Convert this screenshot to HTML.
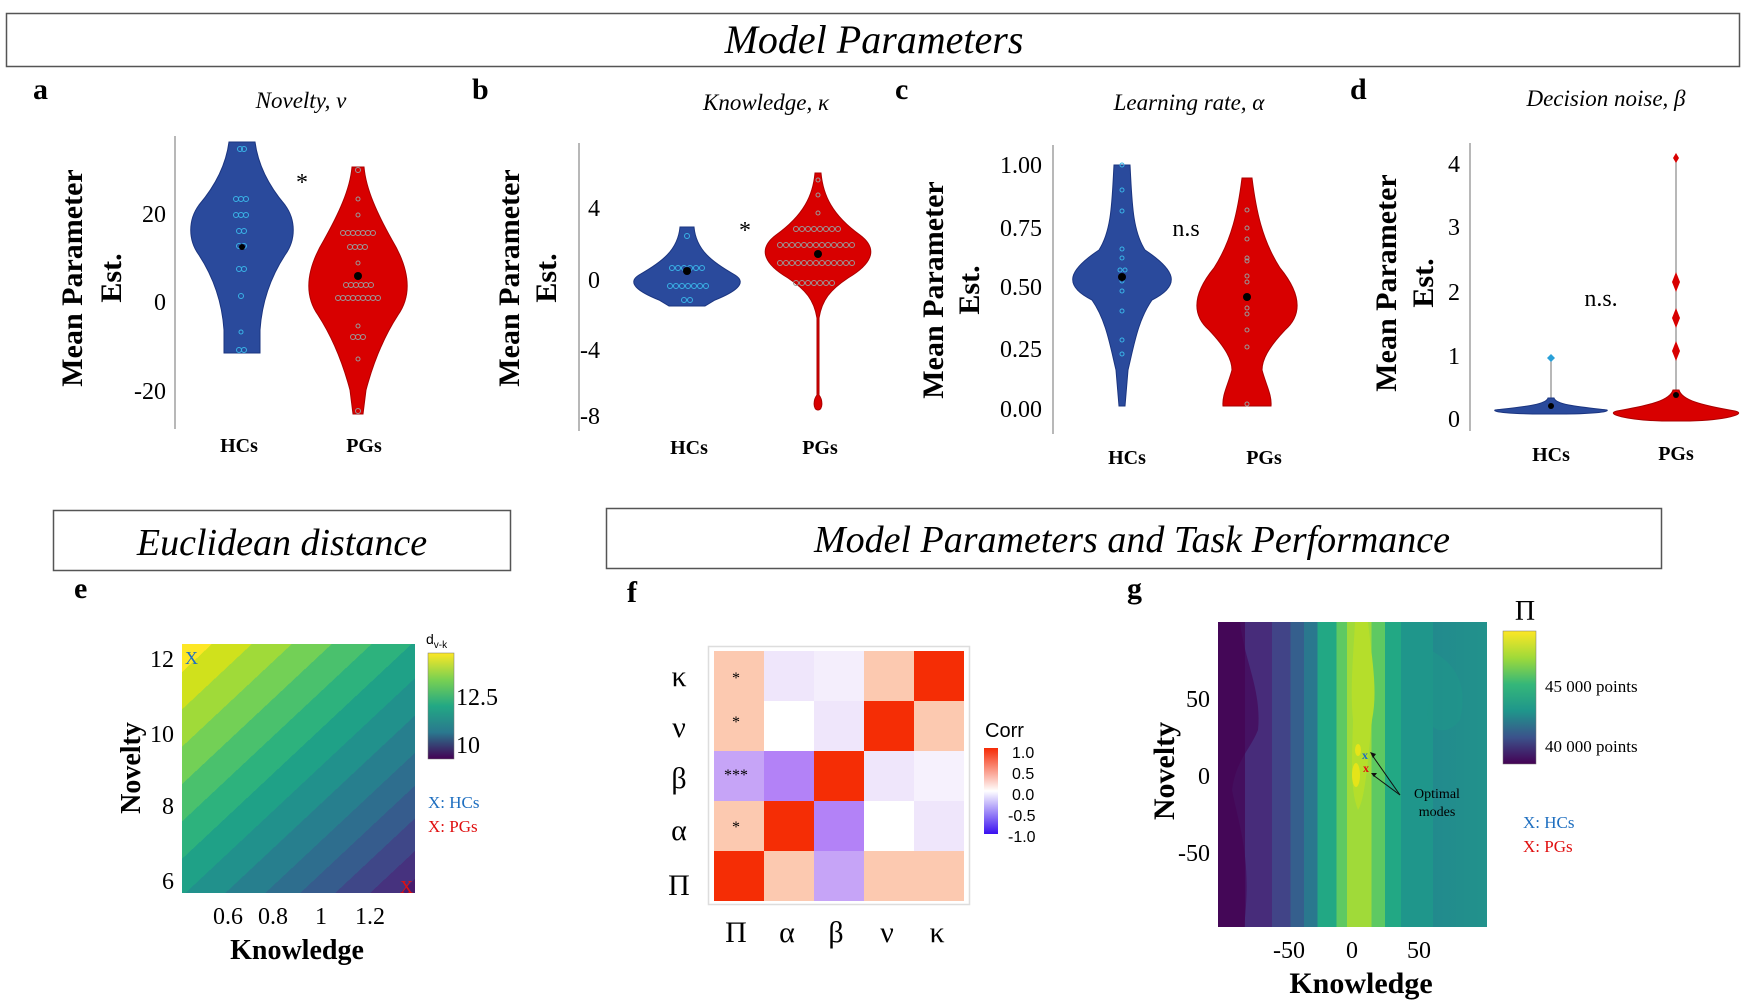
<!DOCTYPE html>
<html><head><meta charset="utf-8"><style>
html,body{margin:0;padding:0;background:#fff;}
svg{display:block;font-family:"Liberation Serif",serif;}
.it{font-style:italic}
.b{font-weight:bold}
</style></head><body>
<svg width="1746" height="1005" viewBox="0 0 1746 1005" xmlns="http://www.w3.org/2000/svg">
<defs>
<linearGradient id="eg" gradientUnits="userSpaceOnUse" x1="182" y1="644" x2="415" y2="893">
<stop offset="0" stop-color="#fde725"/><stop offset="0.06" stop-color="#fde725"/>
<stop offset="0.06" stop-color="#d0e11c"/><stop offset="0.14" stop-color="#d0e11c"/>
<stop offset="0.14" stop-color="#a0da39"/><stop offset="0.22" stop-color="#a0da39"/>
<stop offset="0.22" stop-color="#73d056"/><stop offset="0.30" stop-color="#73d056"/>
<stop offset="0.30" stop-color="#4ac16d"/><stop offset="0.38" stop-color="#4ac16d"/>
<stop offset="0.38" stop-color="#2db27d"/><stop offset="0.46" stop-color="#2db27d"/>
<stop offset="0.46" stop-color="#1fa187"/><stop offset="0.54" stop-color="#1fa187"/>
<stop offset="0.54" stop-color="#21918c"/><stop offset="0.62" stop-color="#21918c"/>
<stop offset="0.62" stop-color="#277f8e"/><stop offset="0.70" stop-color="#277f8e"/>
<stop offset="0.70" stop-color="#2e6e8e"/><stop offset="0.77" stop-color="#2e6e8e"/>
<stop offset="0.77" stop-color="#365c8d"/><stop offset="0.84" stop-color="#365c8d"/>
<stop offset="0.84" stop-color="#3f4788"/><stop offset="0.91" stop-color="#3f4788"/>
<stop offset="0.91" stop-color="#46327e"/><stop offset="0.97" stop-color="#46327e"/>
<stop offset="0.97" stop-color="#481c6e"/><stop offset="1" stop-color="#481c6e"/>
</linearGradient>
<linearGradient id="ecb" x1="0" y1="0" x2="0" y2="1">
<stop offset="0" stop-color="#fde725"/><stop offset="0.25" stop-color="#7ad151"/><stop offset="0.5" stop-color="#22a884"/><stop offset="0.75" stop-color="#2a788e"/><stop offset="1" stop-color="#440154"/>
</linearGradient>
<linearGradient id="gg" gradientUnits="userSpaceOnUse" x1="1218" y1="0" x2="1487" y2="0">
<stop offset="0" stop-color="#440f5e"/><stop offset="0.1" stop-color="#440f5e"/>
<stop offset="0.1" stop-color="#472c7a"/><stop offset="0.2" stop-color="#472c7a"/>
<stop offset="0.2" stop-color="#414487"/><stop offset="0.27" stop-color="#414487"/>
<stop offset="0.27" stop-color="#355f8d"/><stop offset="0.32" stop-color="#355f8d"/>
<stop offset="0.32" stop-color="#2a788e"/><stop offset="0.37" stop-color="#2a788e"/>
<stop offset="0.37" stop-color="#22a884"/><stop offset="0.44" stop-color="#22a884"/>
<stop offset="0.44" stop-color="#5ec962"/><stop offset="0.48" stop-color="#5ec962"/>
<stop offset="0.48" stop-color="#a0da39"/><stop offset="0.57" stop-color="#a0da39"/>
<stop offset="0.57" stop-color="#5ec962"/><stop offset="0.62" stop-color="#5ec962"/>
<stop offset="0.62" stop-color="#22a884"/><stop offset="0.68" stop-color="#22a884"/>
<stop offset="0.68" stop-color="#1f968b"/><stop offset="0.8" stop-color="#1f968b"/>
<stop offset="0.8" stop-color="#228a8d"/><stop offset="1" stop-color="#22928c"/>
</linearGradient>
<linearGradient id="gcb" x1="0" y1="0" x2="0" y2="1">
<stop offset="0" stop-color="#fde725"/><stop offset="0.2" stop-color="#a0da39"/><stop offset="0.4" stop-color="#35b779"/><stop offset="0.6" stop-color="#1f968b"/><stop offset="0.8" stop-color="#3b528b"/><stop offset="1" stop-color="#440154"/>
</linearGradient>
<linearGradient id="corr" x1="0" y1="0" x2="0" y2="1">
<stop offset="0" stop-color="#f52a05"/><stop offset="0.5" stop-color="#ffffff"/><stop offset="1" stop-color="#3a10f0"/>
</linearGradient>
</defs>

<rect x="6.5" y="13.5" width="1733" height="53" fill="#fff" stroke="#555" stroke-width="1.5"/>
<text x="874" y="53" font-size="40" class="it" text-anchor="middle">Model Parameters</text>

<g class="b" font-size="30">
<text x="33" y="99">a</text><text x="472" y="99">b</text><text x="895" y="99">c</text><text x="1350" y="99">d</text>
<text x="74" y="598">e</text><text x="627" y="602">f</text><text x="1127" y="598">g</text>
</g>
<g class="it" font-size="23" text-anchor="middle">
<text x="301" y="108">Novelty, ν</text>
<text x="766" y="110">Knowledge, κ</text>
<text x="1189" y="110">Learning rate, α</text>
<text x="1606" y="106">Decision noise, β</text>
</g>

<g class="b" font-size="30" text-anchor="middle">
<text transform="translate(82,278) rotate(-90)">Mean Parameter</text>
<text transform="translate(121,278) rotate(-90)">Est.</text>
<text transform="translate(519,278) rotate(-90)">Mean Parameter</text>
<text transform="translate(556,278) rotate(-90)">Est.</text>
<text transform="translate(943,290) rotate(-90)">Mean Parameter</text>
<text transform="translate(979,290) rotate(-90)">Est.</text>
<text transform="translate(1396,283) rotate(-90)">Mean Parameter</text>
<text transform="translate(1433,283) rotate(-90)">Est.</text>
</g>

<g stroke="#888" stroke-width="1.2">
<line x1="175" y1="136" x2="175" y2="429"/>
<line x1="579" y1="143" x2="579" y2="431"/>
<line x1="1053" y1="145" x2="1053" y2="434"/>
<line x1="1470" y1="143" x2="1470" y2="431"/>
</g>
<g font-size="24" text-anchor="end">
<text x="166" y="222">20</text><text x="166" y="310">0</text><text x="166" y="399">-20</text>
<text x="600" y="216">4</text>
<text x="600" y="288">0</text><text x="600" y="358">-4</text><text x="600" y="424">-8</text>
<text x="1042" y="173">1.00</text><text x="1042" y="236">0.75</text><text x="1042" y="295">0.50</text><text x="1042" y="357">0.25</text><text x="1042" y="417">0.00</text>
<text x="1460" y="172">4</text><text x="1460" y="235">3</text><text x="1460" y="300">2</text><text x="1460" y="364">1</text><text x="1460" y="427">0</text>
</g>
<g class="b" font-size="20" text-anchor="middle">
<text x="239" y="452">HCs</text><text x="364" y="452">PGs</text>
<text x="689" y="454">HCs</text><text x="820" y="454">PGs</text>
<text x="1127" y="464">HCs</text><text x="1264" y="464">PGs</text>
<text x="1551" y="461">HCs</text><text x="1676" y="460">PGs</text>
</g>
<g font-size="24" text-anchor="middle">
<text x="302" y="190">*</text><text x="745" y="238">*</text>
<text x="1186" y="236">n.s</text><text x="1601" y="306">n.s.</text>
</g>

<path d="M229,142 L255,142 C258,165 268,185 285,205 C296,220 296,240 285,255 C272,275 262,300 260,330 L260,353 L224,353 L224,330 C222,300 212,275 199,255 C188,240 188,220 199,205 C216,185 226,165 229,142 Z" fill="#2a4a9c" stroke="#1b3580"/>
<path d="M352,167 L364,167 C366,190 378,215 392,240 C410,270 412,295 398,315 C385,335 374,360 366,390 L363,414 L353,414 L350,390 C342,360 331,335 318,315 C304,295 306,270 324,240 C338,215 350,190 352,167 Z" fill="#d80000" stroke="#a00"/>
<path d="M680,227 L694,227 C696,250 712,262 735,275 C748,283 735,292 715,300 L705,306 L669,306 L659,300 C639,292 626,283 639,275 C662,262 678,250 680,227 Z" fill="#2a4a9c" stroke="#1b3580"/>
<path d="M815,173 L821,173 C823,195 832,215 860,235 C880,250 870,265 848,278 C830,290 822,300 819,318 L819,395 C823,400 823,410 818,410 C813,410 813,400 817,395 L817,318 C814,300 806,290 788,278 C766,265 756,250 776,235 C804,215 813,195 815,173 Z" fill="#d80000" stroke="#a00"/>
<path d="M1114,165 L1130,165 C1132,200 1132,230 1145,250 C1175,270 1182,285 1152,300 C1138,320 1134,345 1128,370 L1125,406 L1119,406 L1116,370 C1110,345 1106,320 1092,300 C1062,285 1069,270 1099,250 C1112,230 1112,200 1114,165 Z" fill="#2a4a9c" stroke="#1b3580"/>
<path d="M1242,178 L1252,178 C1256,210 1262,240 1280,268 C1302,295 1302,315 1285,330 C1268,348 1262,360 1262,370 C1266,385 1272,395 1271,406 L1223,406 C1222,395 1228,385 1232,370 C1232,360 1226,348 1209,330 C1192,315 1192,295 1214,268 C1232,240 1238,210 1242,178 Z" fill="#d80000" stroke="#a00"/>
<line x1="1551" y1="358" x2="1551" y2="400" stroke="#888" stroke-width="1.2"/>
<path d="M1551,354 l4,4 l-4,4 l-4,-4 Z" fill="#29a0d8"/>
<path d="M1548,398 L1554,398 C1556,405 1580,407 1607,410 C1610,412 1590,414 1560,414 L1542,414 C1512,414 1492,412 1495,410 C1522,407 1546,405 1548,398 Z" fill="#2a4a9c" stroke="#1b3580"/>
<line x1="1676" y1="157" x2="1676" y2="395" stroke="#888" stroke-width="1.2"/>
<g fill="#d80000">
<path d="M1676,153 l3,5 l-3,5 l-3,-5 Z"/>
<path d="M1676,272 l4,10 l-4,10 l-4,-10 Z"/>
<path d="M1676,308 l4,10 l-4,10 l-4,-10 Z"/>
<path d="M1676,341 l4,10 l-4,10 l-4,-10 Z"/>
</g>
<path d="M1673,390 L1679,390 C1682,400 1700,405 1735,411 C1748,414 1725,420 1690,421 L1662,421 C1627,420 1604,414 1617,411 C1652,405 1670,400 1673,390 Z" fill="#d80000" stroke="#a00"/>

<g fill="none" stroke="#3ab3e6" stroke-width="1">
<circle cx="240" cy="149" r="2.5"/><circle cx="244" cy="149" r="2.5"/>
<circle cx="236" cy="199" r="2.5"/><circle cx="241" cy="199" r="2.5"/><circle cx="246" cy="199" r="2.5"/>
<circle cx="236" cy="215" r="2.5"/><circle cx="241" cy="215" r="2.5"/><circle cx="246" cy="215" r="2.5"/>
<circle cx="239" cy="231" r="2.5"/><circle cx="244" cy="231" r="2.5"/>
<circle cx="239" cy="246" r="2.5"/><circle cx="244" cy="246" r="2.5"/>
<circle cx="239" cy="269" r="2.5"/><circle cx="244" cy="269" r="2.5"/>
<circle cx="241" cy="296" r="2.5"/><circle cx="241" cy="332" r="2"/><circle cx="239" cy="350" r="2.5"/><circle cx="244" cy="350" r="2.5"/>
<circle cx="672" cy="268" r="2.5"/><circle cx="678" cy="268" r="2.5"/><circle cx="684" cy="268" r="2.5"/><circle cx="690" cy="268" r="2.5"/><circle cx="696" cy="268" r="2.5"/><circle cx="702" cy="268" r="2.5"/>
<circle cx="670" cy="286" r="2.5"/><circle cx="676" cy="286" r="2.5"/><circle cx="682" cy="286" r="2.5"/><circle cx="688" cy="286" r="2.5"/><circle cx="694" cy="286" r="2.5"/><circle cx="700" cy="286" r="2.5"/><circle cx="706" cy="286" r="2.5"/>
<circle cx="684" cy="300" r="2.5"/><circle cx="690" cy="300" r="2.5"/><circle cx="687" cy="236" r="2.5"/>
<circle cx="1122" cy="165" r="2"/><circle cx="1122" cy="190" r="2"/><circle cx="1122" cy="211" r="2"/><circle cx="1122" cy="249" r="2"/><circle cx="1122" cy="258" r="2"/><circle cx="1120" cy="270" r="2"/><circle cx="1125" cy="270" r="2"/><circle cx="1122" cy="281" r="2"/><circle cx="1122" cy="291" r="2"/><circle cx="1122" cy="311" r="2"/><circle cx="1122" cy="340" r="2"/><circle cx="1122" cy="354" r="2"/>
</g>
<g fill="none" stroke="#999" stroke-width="1">
<circle cx="358" cy="170" r="2.5"/><circle cx="358" cy="199" r="2"/><circle cx="358" cy="215" r="2"/>
<circle cx="343" cy="233" r="2.5"/><circle cx="348" cy="233" r="2.5"/><circle cx="353" cy="233" r="2.5"/><circle cx="358" cy="233" r="2.5"/><circle cx="363" cy="233" r="2.5"/><circle cx="368" cy="233" r="2.5"/><circle cx="373" cy="233" r="2.5"/>
<circle cx="350" cy="247" r="2.5"/><circle cx="355" cy="247" r="2.5"/><circle cx="360" cy="247" r="2.5"/><circle cx="365" cy="247" r="2.5"/>
<circle cx="358" cy="263" r="2"/>
<circle cx="346" cy="285" r="2.5"/><circle cx="351" cy="285" r="2.5"/><circle cx="356" cy="285" r="2.5"/><circle cx="361" cy="285" r="2.5"/><circle cx="366" cy="285" r="2.5"/><circle cx="371" cy="285" r="2.5"/>
<circle cx="338" cy="298" r="2.5"/><circle cx="343" cy="298" r="2.5"/><circle cx="348" cy="298" r="2.5"/><circle cx="353" cy="298" r="2.5"/><circle cx="358" cy="298" r="2.5"/><circle cx="363" cy="298" r="2.5"/><circle cx="368" cy="298" r="2.5"/><circle cx="373" cy="298" r="2.5"/><circle cx="378" cy="298" r="2.5"/>
<circle cx="358" cy="326" r="2"/><circle cx="353" cy="337" r="2.5"/><circle cx="358" cy="337" r="2.5"/><circle cx="363" cy="337" r="2.5"/><circle cx="358" cy="359" r="2"/><circle cx="358" cy="411" r="2.5"/>
<circle cx="818" cy="180" r="2"/><circle cx="818" cy="195" r="2"/><circle cx="818" cy="213" r="2"/>
<circle cx="796" cy="229" r="2.5"/><circle cx="802" cy="229" r="2.5"/><circle cx="808" cy="229" r="2.5"/><circle cx="814" cy="229" r="2.5"/><circle cx="820" cy="229" r="2.5"/><circle cx="826" cy="229" r="2.5"/><circle cx="832" cy="229" r="2.5"/><circle cx="838" cy="229" r="2.5"/>
<circle cx="780" cy="245" r="2.5"/><circle cx="786" cy="245" r="2.5"/><circle cx="792" cy="245" r="2.5"/><circle cx="798" cy="245" r="2.5"/><circle cx="804" cy="245" r="2.5"/><circle cx="810" cy="245" r="2.5"/><circle cx="816" cy="245" r="2.5"/><circle cx="822" cy="245" r="2.5"/><circle cx="828" cy="245" r="2.5"/><circle cx="834" cy="245" r="2.5"/><circle cx="840" cy="245" r="2.5"/><circle cx="846" cy="245" r="2.5"/><circle cx="852" cy="245" r="2.5"/>
<circle cx="780" cy="263" r="2.5"/><circle cx="786" cy="263" r="2.5"/><circle cx="792" cy="263" r="2.5"/><circle cx="798" cy="263" r="2.5"/><circle cx="804" cy="263" r="2.5"/><circle cx="810" cy="263" r="2.5"/><circle cx="816" cy="263" r="2.5"/><circle cx="822" cy="263" r="2.5"/><circle cx="828" cy="263" r="2.5"/><circle cx="834" cy="263" r="2.5"/><circle cx="840" cy="263" r="2.5"/><circle cx="846" cy="263" r="2.5"/><circle cx="852" cy="263" r="2.5"/>
<circle cx="796" cy="283" r="2.5"/><circle cx="802" cy="283" r="2.5"/><circle cx="808" cy="283" r="2.5"/><circle cx="814" cy="283" r="2.5"/><circle cx="820" cy="283" r="2.5"/><circle cx="826" cy="283" r="2.5"/><circle cx="832" cy="283" r="2.5"/>
<circle cx="1247" cy="210" r="2"/><circle cx="1247" cy="228" r="2"/><circle cx="1247" cy="239" r="2"/><circle cx="1247" cy="258" r="2"/><circle cx="1247" cy="261" r="2"/><circle cx="1247" cy="276" r="2"/><circle cx="1247" cy="282" r="2"/><circle cx="1247" cy="308" r="2"/><circle cx="1247" cy="314" r="2"/><circle cx="1247" cy="330" r="2"/><circle cx="1247" cy="347" r="2"/><circle cx="1247" cy="404" r="2"/>
</g>
<g fill="#000">
<circle cx="358" cy="276" r="4"/><circle cx="242" cy="247" r="3"/>
<circle cx="687" cy="271" r="4"/><circle cx="818" cy="254" r="4"/>
<circle cx="1122" cy="277" r="4"/><circle cx="1247" cy="297" r="4"/>
<circle cx="1551" cy="406" r="3"/><circle cx="1676" cy="395" r="3"/>
</g>

<rect x="53.5" y="510.5" width="457" height="60" fill="#fff" stroke="#555" stroke-width="1.5"/>
<text x="282" y="555" font-size="38" class="it" text-anchor="middle">Euclidean distance</text>
<rect x="606.5" y="508.5" width="1055" height="60" fill="#fff" stroke="#555" stroke-width="1.5"/>
<text x="1132" y="552" font-size="38" class="it" text-anchor="middle">Model Parameters and Task Performance</text>

<rect x="182" y="644" width="233" height="249" fill="url(#eg)"/>
<text x="185" y="664" font-size="18" fill="#1f6fc0">X</text>
<text x="400" y="893" font-size="18" fill="#e01010">X</text>
<g font-size="24" text-anchor="end">
<text x="174" y="667">12</text><text x="174" y="742">10</text><text x="174" y="814">8</text><text x="174" y="889">6</text>
</g>
<g font-size="24" text-anchor="middle">
<text x="228" y="924">0.6</text><text x="273" y="924">0.8</text><text x="321" y="924">1</text><text x="370" y="924">1.2</text>
</g>
<text x="297" y="959" font-size="28" class="b" text-anchor="middle">Knowledge</text>
<text transform="translate(140,768) rotate(-90)" font-size="28" class="b" text-anchor="middle">Novelty</text>
<rect x="428" y="653" width="26" height="106" fill="url(#ecb)" stroke="#777" stroke-width="0.5"/>
<text x="426" y="644" font-family="Liberation Sans,sans-serif" font-size="14">d<tspan font-size="10" dy="4">v-k</tspan></text>
<text x="456" y="705" font-size="24">12.5</text>
<text x="456" y="753" font-size="24">10</text>
<text x="428" y="808" font-size="17" fill="#1f6fc0">X: HCs</text>
<text x="428" y="832" font-size="17" fill="#e01010">X: PGs</text>

<rect x="708.5" y="646.5" width="261" height="258" fill="#fff" stroke="#ddd" stroke-width="1.5"/>
<g>
<rect x="714" y="651" width="50" height="50" fill="#fcc9b0"/><rect x="764" y="651" width="50" height="50" fill="#efe6fb"/><rect x="814" y="651" width="50" height="50" fill="#f4eefc"/><rect x="864" y="651" width="50" height="50" fill="#fcc9b0"/><rect x="914" y="651" width="50" height="50" fill="#f52d05"/>
<rect x="714" y="701" width="50" height="50" fill="#fcc9b0"/><rect x="764" y="701" width="50" height="50" fill="#ffffff"/><rect x="814" y="701" width="50" height="50" fill="#efe6fb"/><rect x="864" y="701" width="50" height="50" fill="#f52d05"/><rect x="914" y="701" width="50" height="50" fill="#fcc9b0"/>
<rect x="714" y="751" width="50" height="50" fill="#c6a4f7"/><rect x="764" y="751" width="50" height="50" fill="#b382f7"/><rect x="814" y="751" width="50" height="50" fill="#f52d05"/><rect x="864" y="751" width="50" height="50" fill="#efe6fb"/><rect x="914" y="751" width="50" height="50" fill="#f6f1fd"/>
<rect x="714" y="801" width="50" height="50" fill="#fcc9b0"/><rect x="764" y="801" width="50" height="50" fill="#f52d05"/><rect x="814" y="801" width="50" height="50" fill="#b382f7"/><rect x="864" y="801" width="50" height="50" fill="#ffffff"/><rect x="914" y="801" width="50" height="50" fill="#efe6fb"/>
<rect x="714" y="851" width="50" height="50" fill="#f52d05"/><rect x="764" y="851" width="50" height="50" fill="#fcc9b0"/><rect x="814" y="851" width="50" height="50" fill="#c6a4f7"/><rect x="864" y="851" width="50" height="50" fill="#fcc9b0"/><rect x="914" y="851" width="50" height="50" fill="#fcc9b0"/>
</g>
<g font-size="16" text-anchor="middle">
<text x="736" y="683">*</text><text x="736" y="727">*</text><text x="736" y="780">***</text><text x="736" y="832">*</text>
</g>
<g font-size="30" text-anchor="middle">
<text x="679" y="686">κ</text><text x="679" y="737">ν</text><text x="679" y="788">β</text><text x="679" y="840">α</text><text x="679" y="895">Π</text>
<text x="736" y="942">Π</text><text x="787" y="942">α</text><text x="836" y="942">β</text><text x="887" y="942">ν</text><text x="937" y="942">κ</text>
</g>
<text x="985" y="737" font-family="Liberation Sans,sans-serif" font-size="20">Corr</text>
<rect x="984" y="748" width="14" height="86" fill="url(#corr)"/>
<g font-family="Liberation Sans,sans-serif" font-size="16">
<text x="1012" y="758">1.0</text><text x="1012" y="779">0.5</text><text x="1012" y="800">0.0</text><text x="1008" y="821">-0.5</text><text x="1008" y="842">-1.0</text>
</g>

<rect x="1218" y="622" width="269" height="305" fill="url(#gg)"/>
<path d="M1218,622 L1240,622 C1244,660 1262,690 1258,730 C1250,750 1236,760 1232,790 C1240,830 1252,860 1244,927 L1218,927 Z" fill="#440154" opacity="0.6"/>
<path d="M1355,622 L1368,622 C1372,660 1378,690 1372,720 C1368,760 1365,800 1358,810 C1350,790 1352,760 1353,720 C1350,690 1353,660 1355,622 Z" fill="#b5de2b"/>
<path d="M1430,650 C1450,660 1470,680 1460,720 C1445,740 1420,730 1430,700 Z" fill="#1f968b" opacity="0.6"/>
<ellipse cx="1358" cy="750" rx="3" ry="6" fill="#e5e419"/><ellipse cx="1356" cy="775" rx="4" ry="12" fill="#e5e419"/>
<text x="1362" y="759" font-size="12" font-weight="bold" fill="#1f6fc0">x</text>
<text x="1363" y="772" font-size="12" font-weight="bold" fill="#e01010">x</text>
<g stroke="#111" stroke-width="1">
<line x1="1400" y1="795" x2="1372" y2="755"/><line x1="1400" y1="795" x2="1373" y2="775"/>
</g>
<path d="M1370,752 l6,2 l-3,4 Z M1371,773 l6,0 l-3,4 Z" fill="#111"/>
<text x="1437" y="798" font-size="14" text-anchor="middle">Optimal</text>
<text x="1437" y="816" font-size="14" text-anchor="middle">modes</text>
<g font-size="24" text-anchor="end">
<text x="1210" y="707">50</text><text x="1210" y="784">0</text><text x="1210" y="861">-50</text>
</g>
<g font-size="24" text-anchor="middle">
<text x="1289" y="958">-50</text><text x="1352" y="958">0</text><text x="1419" y="958">50</text>
</g>
<text x="1361" y="993" font-size="30" class="b" text-anchor="middle">Knowledge</text>
<text transform="translate(1174,771) rotate(-90)" font-size="30" class="b" text-anchor="middle">Novelty</text>
<rect x="1503" y="631" width="33" height="133" fill="url(#gcb)" stroke="#777" stroke-width="0.5"/>
<text x="1525" y="620" font-size="28" text-anchor="middle">Π</text>
<text x="1545" y="692" font-size="17">45 000 points</text>
<text x="1545" y="752" font-size="17">40 000 points</text>
<text x="1523" y="828" font-size="17" fill="#1f6fc0">X: HCs</text>
<text x="1523" y="852" font-size="17" fill="#e01010">X: PGs</text>
</svg>
</body></html>
